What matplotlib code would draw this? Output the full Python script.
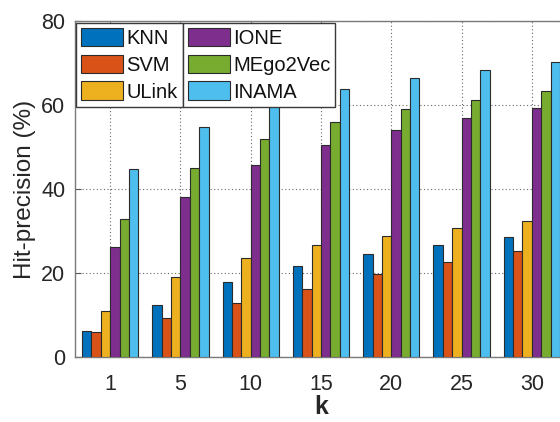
import matplotlib
matplotlib.use("Agg")
import matplotlib.pyplot as plt
import numpy as np

plt.rcParams["font.family"] = ["Liberation Sans", "DejaVu Sans"]

k_values = ["1", "5", "10", "15", "20", "25", "30"]
methods = ["KNN", "SVM", "ULink", "IONE", "MEgo2Vec", "INAMA"]
knn = [6.3, 12.5, 17.8, 21.7, 24.5, 26.7, 28.6]
svm = [6.0, 9.4, 12.9, 16.3, 19.8, 22.6, 25.3]
ulink = [10.9, 19.0, 23.6, 26.6, 28.7, 30.6, 32.5]
ione = [26.1, 38.2, 45.6, 50.4, 54.0, 56.9, 59.2]
mego2vec = [32.9, 45.0, 51.8, 55.9, 59.0, 61.3, 63.3]
inama = [44.8, 54.7, 60.5, 63.8, 66.4, 68.3, 70.2]
series = [knn, svm, ulink, ione, mego2vec, inama]

# MATLAB default colour order
colors = ["#0072BD", "#D95319", "#EDB120", "#7E2F8E", "#77AC30", "#4DBEEE"]
EDGE = "#2b2b2b"
TXT = "#262626"

fig = plt.figure(figsize=(5.6, 4.22), dpi=100)
ax = fig.add_axes([75 / 560, 65 / 422, 492 / 560, 336 / 422])

x = np.arange(1, len(k_values) + 1)
w = 0.8 / len(series)
bars = []
for j, (vals, c) in enumerate(zip(series, colors)):
    b = ax.bar(x + (j - 2.5) * w, vals, width=w, color=c, edgecolor=EDGE,
               linewidth=0.8, zorder=3, label=methods[j])
    bars.append(b)

ax.set_xlim(0.5, 7.5)
ax.set_ylim(0, 80)
ax.set_xticks(x)
ax.set_xticklabels(k_values)
ax.set_yticks([0, 20, 40, 60, 80])
ax.tick_params(direction="in", length=4, width=0.8, colors="#555555",
               labelcolor=TXT, labelsize=15.5, top=False, right=False)
ax.tick_params(axis="y", pad=7)
ax.tick_params(axis="x", pad=12)
ax.grid(True, linestyle=(0, (1, 2.2)), color="#666666", linewidth=0.8, zorder=0)
ax.set_axisbelow(True)
for s in ax.spines.values():
    s.set_color("#7a7a7a")
    s.set_linewidth(1.0)

ax.set_ylabel("Hit-precision (%)", fontsize=17.5, color=TXT, labelpad=4)
ax.set_xlabel("k", fontsize=18, fontweight="bold", color=TXT, labelpad=0)

# two-column legend drawn as two boxes sharing a border
leg_kw = dict(loc="upper left", fontsize=14.5, frameon=True, fancybox=False,
              borderpad=0.25, labelspacing=0.33, handlelength=2.1,
              handleheight=1.05, handletextpad=0.15, borderaxespad=0,
              bbox_transform=fig.transFigure)
top = 1 - 22.7 / 422
leg1 = ax.legend(bars[:3], methods[:3], bbox_to_anchor=(76 / 560, top), **leg_kw)
ax.add_artist(leg1)

fig.canvas.draw()
bb = leg1.get_window_extent()
right_edge = bb.x1 / fig.bbox.width
leg2 = ax.legend(bars[3:], methods[3:], bbox_to_anchor=(right_edge, top), **leg_kw)
for lg in [leg1, leg2]:
    lg.set_zorder(5)
    lg.get_frame().set_edgecolor("#3a3a3a")
    lg.get_frame().set_linewidth(1.0)
    lg.get_frame().set_alpha(1)
    for t in lg.get_texts():
        t.set_color("#111111")

fig.savefig("out.png", dpi=100, facecolor="white")
